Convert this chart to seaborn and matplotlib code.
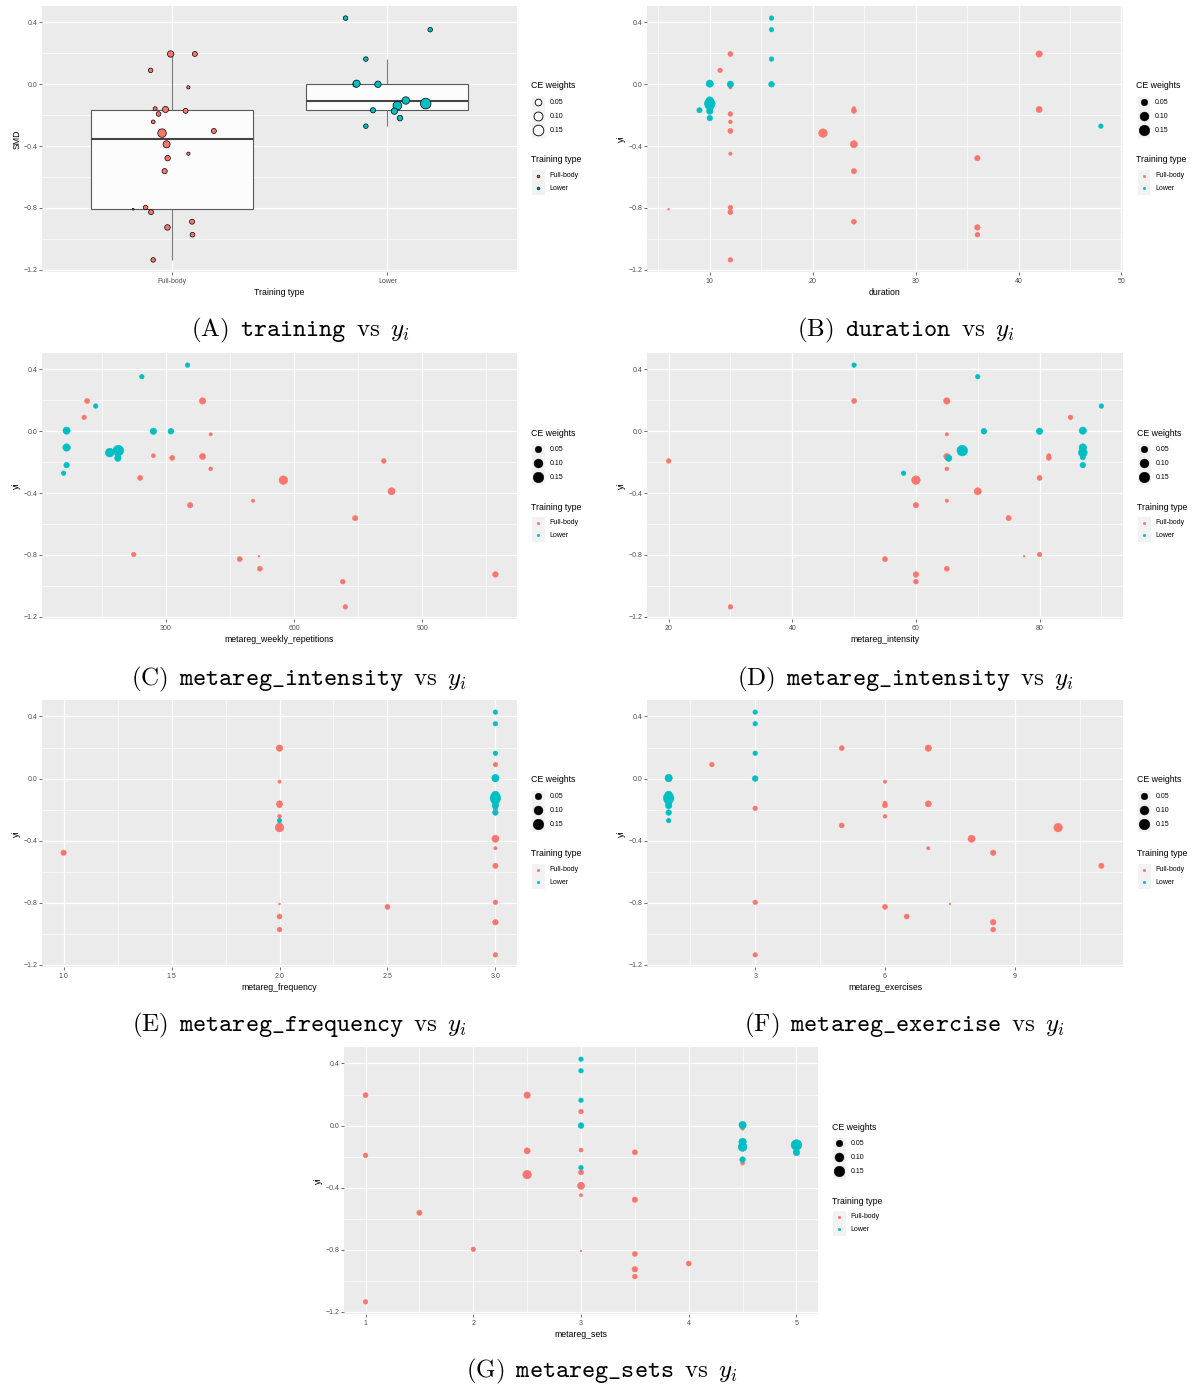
import numpy as np
import pandas as pd
import matplotlib
matplotlib.use("Agg")
import matplotlib.pyplot as plt
import matplotlib.colors as mcolors
from matplotlib.patches import Rectangle
import seaborn as sns

# ---------------------------------------------------------------------------
# Study-level data: effect size (SMD), CE weight, training type and moderators
# ---------------------------------------------------------------------------
training = ["Full-body"] * 22 + ["Lower"] * 13

yi = [0.196, 0.196, 0.090, -0.020, -0.158, -0.163, -0.172, -0.192, -0.243, -0.302,
      -0.316, -0.388, -0.449, -0.478, -0.562, -0.808, -0.797, -0.827, -0.889, -0.926,
      -0.973, -1.136,
      0.428, 0.353, 0.163, 0.000, 0.004, 0.000, -0.105, -0.125, -0.138, -0.174,
      -0.219, -0.168, -0.271]

weight = [0.045, 0.025, 0.020, 0.010, 0.015, 0.040, 0.025, 0.021, 0.013, 0.025,
          0.090, 0.058, 0.010, 0.030, 0.028, 0.006, 0.020, 0.025, 0.025, 0.032,
          0.022, 0.020,
          0.020, 0.020, 0.020, 0.034, 0.060, 0.045, 0.065, 0.150, 0.095, 0.045,
          0.032, 0.028, 0.020]

duration = [42, 12, 11, 12, 24, 42, 24, 12, 12, 12, 21, 24, 12, 36, 24, 6, 12, 12, 24, 36,
            36, 12,
            16, 16, 16, 16, 10, 12, 10, 10, 10, 10, 10, 9, 48]

weekly_repetitions = [386, 116, 109, 405, 271, 386, 315, 810, 405, 240, 575, 828, 504, 357,
                      743, 518, 225, 473, 520, 1071, 714, 720,
                      351, 244, 136, 312, 68, 271, 68, 189, 169, 188, 68, 188, 61]

intensity = [65, 50, 85, 65, 81.5, 65, 81.5, 20, 65, 80, 60, 70, 65, 60, 75, 77.5, 80, 55,
             65, 60, 60, 30,
             50, 70, 90, 71, 87, 80, 87, 67.5, 87, 65.3, 87, 87, 58]

frequency = [2, 2, 3, 2, 2, 2, 2, 3, 2, 2, 2, 3, 3, 1, 3, 2, 3, 2.5, 2, 3, 2, 3,
             3, 3, 3, 3, 3, 3, 3, 3, 3, 3, 3, 3, 2]

exercises = [7, 5, 2, 6, 6, 7, 6, 3, 6, 5, 10, 8, 7, 8.5, 11, 7.5, 3, 6, 6.5, 8.5, 8.5, 3,
             3, 3, 3, 3, 1, 1, 1, 1, 1, 1, 1, 1, 1]

sets = [2.5, 1, 3, 4.5, 3, 2.5, 3.5, 1, 4.5, 3, 2.5, 3, 3, 3.5, 1.5, 3, 2, 3.5, 4, 3.5,
        3.5, 1,
        3, 3, 3, 3, 4.5, 4.5, 4.5, 5, 4.5, 5, 4.5, 5, 3]

# horizontal jitter of the points in the box-plot panel (category units)
jitter = [-0.004, 0.108, -0.097, 0.078, -0.076, -0.028, 0.065, -0.060, -0.085, 0.196,
          -0.044, -0.023, 0.078, -0.018, -0.032, -0.178, -0.120, -0.095, 0.095, -0.019,
          0.097, -0.085,
          -0.194, 0.198, -0.100, -0.147, -0.143, -0.044, 0.085, 0.177, 0.046, 0.032,
          0.058, -0.067, -0.100]

types = ["Full-body", "Lower"]
palette = {"Full-body": "#F8766D", "Lower": "#00BFC4"}
ce_breaks = [0.05, 0.10, 0.15]

df = pd.DataFrame({
    "training": training, "yi": yi, "weight": weight, "duration": duration,
    "metareg_weekly_repetitions": weekly_repetitions, "metareg_intensity": intensity,
    "metareg_frequency": frequency, "metareg_exercises": exercises,
    "metareg_sets": sets, "jitter": jitter,
})
df["type_code"] = df["training"].map({t: i for i, t in enumerate(types)})
df["type_pos"] = df["type_code"] + df["jitter"]

# ---------------------------------------------------------------------------
# ggplot-like size scale: diameter = 1 + 5 * sqrt(rescaled weight)
# ---------------------------------------------------------------------------
wmin, wmax = min(weight), max(weight)


def _area_fwd(w):
    r = np.clip((np.asarray(w, dtype=float) - wmin) / (wmax - wmin), 0, None)
    return (1 + 5 * np.sqrt(r)) ** 2


def _area_inv(a):
    a = np.asarray(a, dtype=float)
    return wmin + ((np.sqrt(np.clip(a, 1, None)) - 1) / 5) ** 2 * (wmax - wmin)


size_norm = mcolors.FuncNorm((_area_fwd, _area_inv), vmin=wmin, vmax=wmax)
PT = 1.275
sizes = (PT ** 2 * 1.0, PT ** 2 * 36.0)


def marker_area(w):
    return sizes[0] + float(size_norm(w)) * (sizes[1] - sizes[0])


# ---------------------------------------------------------------------------
# Figure set-up
# ---------------------------------------------------------------------------
plt.rcParams["font.family"] = ["Liberation Sans", "DejaVu Sans"]
plt.rcParams["mathtext.fontset"] = "cm"
plt.rcParams["axes.unicode_minus"] = True

W, H = 1198, 1386
fig = plt.figure(figsize=(W / 100, H / 100), dpi=100)
fig.patch.set_facecolor("white")

TICK_FS = 5.0
TITLE_FS = 6.3


def px_axes(x0, y0, x1, y1):
    return fig.add_axes([x0 / W, 1 - y1 / H, (x1 - x0) / W, (y1 - y0) / H])


def expand(values, frac=0.05):
    lo, hi = min(values), max(values)
    pad = (hi - lo) * frac
    return lo - pad, hi + pad


def minor_between(major, lim):
    step = major[1] - major[0]
    cand = [major[0] - step / 2] + [m + step / 2 for m in major]
    return [c for c in cand if lim[0] <= c <= lim[1]]


ylim = expand(yi)
y_major = [-1.2, -0.8, -0.4, 0.0, 0.4]
y_labels = ["\u22121.2", "\u22120.8", "\u22120.4", "0.0", "0.4"]


def gg_style(ax, xlim, x_major, x_labels, x_minor, xlabel, ylabel):
    ax.set_facecolor("#EBEBEB")
    for s in ax.spines.values():
        s.set_visible(False)
    ax.set_ylim(ylim)
    ax.set_yticks(y_major)
    ax.set_yticklabels(y_labels)
    ax.set_yticks(minor_between(y_major, ylim), minor=True)
    ax.set_xlim(xlim)
    ax.set_xticks(x_major)
    ax.set_xticklabels(x_labels)
    ax.set_xticks(x_minor, minor=True)
    ax.grid(which="major", color="white", linewidth=0.9)
    ax.grid(which="minor", color="white", linewidth=0.45)
    ax.set_axisbelow(True)
    ax.tick_params(which="major", length=2.0, width=0.5, color="#333333",
                   labelsize=TICK_FS, labelcolor="#4D4D4D", pad=1.3)
    ax.tick_params(axis="x", which="major", pad=2.0)
    ax.tick_params(which="minor", length=0)
    ax.set_xlabel(xlabel, fontsize=TITLE_FS, labelpad=2.2, color="black")
    ax.set_ylabel(ylabel, fontsize=TITLE_FS, labelpad=1.5, color="black")


# overlay used for legends and captions (pixel coordinates, y downwards)
ov = fig.add_axes([0, 0, 1, 1], zorder=10)
ov.set_xlim(0, W)
ov.set_ylim(H, 0)
ov.set_autoscale_on(False)
ov.axis("off")


def draw_legend(right, top, outlined):
    kx = right + 21.3
    ov.text(right + 14, top + 80, "CE weights", fontsize=TITLE_FS, va="center", ha="left")
    ov.add_patch(Rectangle((right + 15, top + 90.5), 12.6, 41.5,
                           facecolor="#F2F2F2", edgecolor="none"))
    for i, w in enumerate(ce_breaks):
        yy = top + 96.3 + 13.9 * i
        ov.scatter([kx], [yy], s=[marker_area(w)],
                   facecolor="white" if outlined else "black", edgecolor="black",
                   linewidth=0.6 if outlined else 0.3, zorder=3)
        ov.text(right + 32.5, yy, f"{w:.2f}", fontsize=TICK_FS, va="center", ha="left")
    ov.text(right + 14, top + 154, "Training type", fontsize=TITLE_FS, va="center", ha="left")
    ov.add_patch(Rectangle((right + 15, top + 163.5), 12.6, 25.5,
                           facecolor="#F2F2F2", edgecolor="none"))
    for i, t in enumerate(types):
        yy = top + 169.7 + 12.6 * i
        ov.scatter([kx], [yy], s=[(1.5 * PT) ** 2], facecolor=palette[t],
                   edgecolor="black" if outlined else palette[t],
                   linewidth=0.5 if outlined else 0.3, zorder=3)
        ov.text(right + 32.5, yy, t, fontsize=TICK_FS, va="center", ha="left")


# ---------------------------------------------------------------------------
# (A) training vs yi : box plot with jittered, weight-sized points
# ---------------------------------------------------------------------------
boxA = (42, 6, 517, 272)
axA = px_axes(*boxA)
sns.boxplot(data=df, x="type_code", y="yi", order=[0, 1], width=0.75, color="#FCFCFC",
            saturation=1, linecolor="#595959", linewidth=0.8, showcaps=False,
            showfliers=False, whis=1.5,
            medianprops=dict(color="#454545", linewidth=1.5),
            whiskerprops=dict(color="#7A7A7A", linewidth=0.8), ax=axA)
sns.scatterplot(data=df, x="type_pos", y="yi", hue="training", hue_order=types,
                palette=palette, size="weight", sizes=sizes, size_norm=size_norm,
                edgecolor="black", linewidth=0.5, legend=False, ax=axA, zorder=3)
gg_style(axA, (-0.6, 1.6), [0, 1], types, [], "Training type", "SMD")
axA.xaxis.grid(True, which="major", color="white", linewidth=0.9)
draw_legend(boxA[2], boxA[1], outlined=True)

# ---------------------------------------------------------------------------
# (B)-(G) moderator scatter plots
# ---------------------------------------------------------------------------
scatter_panels = [
    ("duration", (647, 6, 1122.5, 272), [10, 20, 30, 40, 50], ["10", "20", "30", "40", "50"]),
    ("metareg_weekly_repetitions", (42, 353, 517, 619), [300, 600, 900],
     ["300", "600", "900"]),
    ("metareg_intensity", (647, 353, 1123, 619), [20, 40, 60, 80], ["20", "40", "60", "80"]),
    ("metareg_frequency", (42, 700, 517, 967), [1.0, 1.5, 2.0, 2.5, 3.0],
     ["1.0", "1.5", "2.0", "2.5", "3.0"]),
    ("metareg_exercises", (647, 700, 1123, 967), [3, 6, 9], ["3", "6", "9"]),
    ("metareg_sets", (344, 1047, 818, 1314), [1, 2, 3, 4, 5], ["1", "2", "3", "4", "5"]),
]

for col, box, x_major, x_labels in scatter_panels:
    ax = px_axes(*box)
    sns.scatterplot(data=df, x=col, y="yi", hue="training", hue_order=types,
                    palette=palette, size="weight", sizes=sizes, size_norm=size_norm,
                    edgecolor="face", linewidth=0.4, legend=False, ax=ax)
    xlim = expand(df[col])
    gg_style(ax, xlim, x_major, x_labels, minor_between(x_major, xlim), col, "yi")
    draw_legend(box[2], box[1], outlined=False)

# ---------------------------------------------------------------------------
# Sub-figure captions
# ---------------------------------------------------------------------------
SP = r"\enspace"
captions = [
    (300, 330, "A", "training"),
    (906, 330, "B", "duration"),
    (299, 679, "C", r"metareg\_intensity"),
    (905, 679, "D", r"metareg\_intensity"),
    (299, 1025, "E", r"metareg\_frequency"),
    (905, 1025, "F", r"metareg\_exercise"),
    (602, 1371, "G", r"metareg\_sets"),
]
for cx, cy, tag, name in captions:
    txt = rf"$\mathrm{{({tag})}}{SP}\mathtt{{{name}}}{SP}\mathrm{{vs}}{SP}y_i$"
    ov.text(cx, cy, txt, fontsize=18, ha="center", va="center")

fig.savefig("out.png", dpi=100, facecolor="white")
